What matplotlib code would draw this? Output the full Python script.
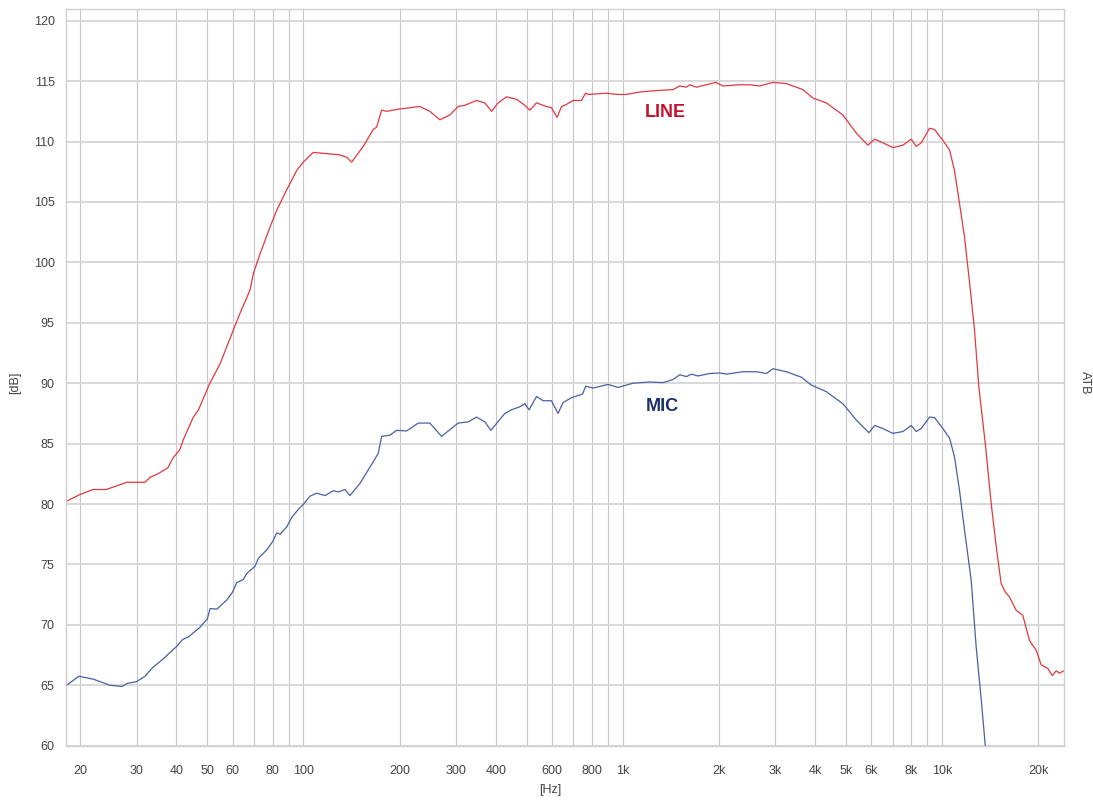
import matplotlib
matplotlib.use("Agg")
import matplotlib.pyplot as plt
from matplotlib.ticker import FixedLocator, NullLocator

# ---- data ----
line_freq = [18, 20, 21.9, 24.1, 28.0, 31.9, 33.0, 35.0, 37.6, 39.0,
             41.0, 42.0, 45.2, 46.9, 50.9, 54.8, 60.3, 63.3, 68.0, 69.7,
             73.1, 78.5, 82.4, 88.6, 95.2, 99.9, 107.3, 118.2, 130.0, 136.5,
             141.6, 153.9, 165.4, 169.5, 175.7, 182.2, 200.4, 231.5, 248.8, 267.5,
             287.4, 305.1, 320.2, 348.4, 369.9, 388.2, 407.2, 432.5, 464.9, 493.5,
             511.5, 537.0, 576.9, 598.0, 622.7, 643.0, 658.5, 699.0, 742.6, 764.4,
             778.8, 889.1, 955.7, 1027, 1130, 1244, 1437, 1508, 1583, 1621,
             1701, 1828, 1955, 2061, 2324, 2497, 2685, 2954, 3253, 3667,
             3941, 4341, 4893, 5389, 5859, 6150, 6527, 7015, 7540, 8009,
             8303, 8608, 9140, 9475, 10060, 10560, 10940, 11340, 11760, 12200,
             12640, 13040, 13700, 14260, 14780, 15320, 15800, 16270, 17070, 17900,
             18790, 19720, 20440, 21440, 22130, 22780, 23330, 24060]
line_db = [80.2, 80.8, 81.2, 81.2, 81.8, 81.8, 82.2, 82.5, 83.0, 83.8,
           84.5, 85.3, 87.2, 87.8, 90.0, 91.6, 94.4, 95.8, 97.7, 99.1,
           100.7, 102.9, 104.3, 106.0, 107.6, 108.3, 109.1, 109.0, 108.9, 108.7,
           108.3, 109.6, 111.0, 111.2, 112.6, 112.5, 112.7, 112.9, 112.5, 111.8,
           112.2, 112.9, 113.0, 113.4, 113.2, 112.5, 113.2, 113.7, 113.5, 113.0,
           112.6, 113.2, 112.9, 112.8, 112.0, 112.9, 113.0, 113.4, 113.4, 114.0,
           113.9, 114.0, 113.9, 113.9, 114.1, 114.2, 114.3, 114.6, 114.5, 114.7,
           114.5, 114.7, 114.9, 114.6, 114.7, 114.7, 114.6, 114.9, 114.8, 114.3,
           113.6, 113.2, 112.2, 110.7, 109.7, 110.2, 109.9, 109.5, 109.7, 110.2,
           109.6, 109.9, 111.1, 111.0, 110.1, 109.3, 107.6, 104.9, 102.1, 98.3,
           94.4, 89.7, 84.7, 80.0, 76.5, 73.4, 72.7, 72.3, 71.2, 70.8,
           68.7, 67.9, 66.7, 66.4, 65.8, 66.2, 66.0, 66.2]

mic_freq = [18.0, 19.8, 22.0, 24.8, 27.0, 28.0, 30.0, 31.9, 33.5, 36.4,
            40.0, 41.9, 43.6, 47.4, 50.0, 51.0, 53.5, 57.5, 59.9, 61.8,
            64.8, 66.4, 70.5, 72.2, 76.7, 80.1, 82.4, 84.4, 88.6, 91.9,
            96.3, 99.9, 104.8, 110.0, 116.8, 123.9, 128.5, 134.9, 139.8, 150.2,
            157.6, 165.4, 171.5, 175.7, 186.6, 195.7, 210.4, 228.8, 248.8, 270.7,
            305.1, 328.0, 348.4, 369.9, 386.3, 427.2, 448.3, 476.1, 493.5, 508.9,
            537.0, 562.9, 598.0, 627.1, 650.1, 690.9, 748.1, 766.1, 807.4, 899.5,
            966.6, 1077, 1215, 1337, 1437, 1508, 1583, 1641, 1721, 1872,
            2012, 2112, 2379, 2621, 2818, 2954, 3253, 3625, 3896, 4341,
            4893, 5389, 5901, 6150, 6527, 7015, 7540, 8009, 8303, 8608,
            9140, 9475, 10060, 10560, 10940, 11340, 11760, 12340, 12790, 13270,
            13660, 13800]
mic_db = [64.95, 65.75, 65.5, 65.0, 64.9, 65.15, 65.3, 65.75, 66.4, 67.2,
          68.2, 68.8, 69.0, 69.8, 70.5, 71.35, 71.3, 72.05, 72.7, 73.5,
          73.75, 74.25, 74.85, 75.5, 76.2, 76.9, 77.6, 77.5, 78.1, 78.9,
          79.55, 79.97, 80.65, 80.9, 80.7, 81.1, 81.0, 81.2, 80.7, 81.7,
          82.6, 83.5, 84.2, 85.6, 85.7, 86.1, 86.05, 86.7, 86.7, 85.6,
          86.7, 86.8, 87.2, 86.8, 86.1, 87.5, 87.8, 88.05, 88.3, 87.8,
          88.9, 88.55, 88.55, 87.5, 88.4, 88.8, 89.1, 89.75, 89.6, 89.9,
          89.65, 90.0, 90.1, 90.05, 90.3, 90.7, 90.55, 90.75, 90.6, 90.8,
          90.85, 90.75, 90.95, 90.95, 90.8, 91.2, 90.95, 90.5, 89.85, 89.3,
          88.3, 86.95, 85.9, 86.5, 86.25, 85.85, 86.0, 86.5, 86.0, 86.25,
          87.2, 87.15, 86.25, 85.45, 83.9, 81.15, 77.85, 73.7, 68.2, 63.8,
          60.0, 58.5]

x_grid = [20, 30, 40, 50, 60, 70, 80, 90, 100, 200, 300, 400, 500, 600, 700, 800, 900,
          1000, 2000, 3000, 4000, 5000, 6000, 7000, 8000, 9000, 10000, 20000]
x_labels = ["20", "30", "40", "50", "60", "", "80", "", "100", "200", "300", "400", "",
            "600", "", "800", "", "1k", "2k", "3k", "4k", "5k", "6k", "", "8k", "", "10k", "20k"]
y_ticks = [60, 65, 70, 75, 80, 85, 90, 95, 100, 105, 110, 115, 120]

plt.rcParams['font.family'] = ['Liberation Sans', 'DejaVu Sans']

fig = plt.figure(figsize=(10.93, 8.0), dpi=100)
ax = fig.add_axes([65.7 / 1093, 1 - 745.7 / 800, (1064 - 65.7) / 1093, (745.7 - 9) / 800])

ax.set_xscale('log')
ax.set_xlim(18.0, 24100)
ax.set_ylim(60, 120.97)

ax.xaxis.set_major_locator(FixedLocator(x_grid))
ax.xaxis.set_minor_locator(NullLocator())
ax.set_xticklabels(x_labels)
ax.set_yticks(y_ticks)
ax.set_yticklabels([str(v) for v in y_ticks])

ax.tick_params(axis='both', length=0, labelsize=9, labelcolor='#444444')
ax.tick_params(axis='x', pad=14)
ax.tick_params(axis='y', pad=8)

ax.grid(True, axis='x', color='#c6c6cc', linewidth=0.8)
ax.grid(True, axis='y', color='#d6d6d6', linewidth=1.3)
ax.set_axisbelow(True)
for s in ax.spines.values():
    s.set_color('#d0d0d0')
    s.set_linewidth(1.0)

ax.plot(line_freq, line_db, color='#e2383e', linewidth=0.9, clip_on=True)
ax.plot(mic_freq, mic_db, color='#4a5fa6', linewidth=0.9, clip_on=True)

ax.text(1358, 112.4, "LINE", color='#c8102e', fontsize=13, fontweight='bold',
        ha='center', va='center')
ax.text(1329, 88.1, "MIC", color='#1b2f6e', fontsize=13, fontweight='bold',
        ha='center', va='center')

fig.text(550 / 1093, 1 - 790 / 800, "[Hz]", fontsize=9, color='#444444', ha='center', va='center')
fig.text(15 / 1093, 1 - 383 / 800, "[dB]", fontsize=9, color='#444444', ha='center', va='center',
         rotation=90)
fig.text(1085 / 1093, 1 - 383 / 800, "ATB", fontsize=9, color='#444444', ha='center', va='center',
         rotation=270)

fig.savefig("out.png", dpi=100)
